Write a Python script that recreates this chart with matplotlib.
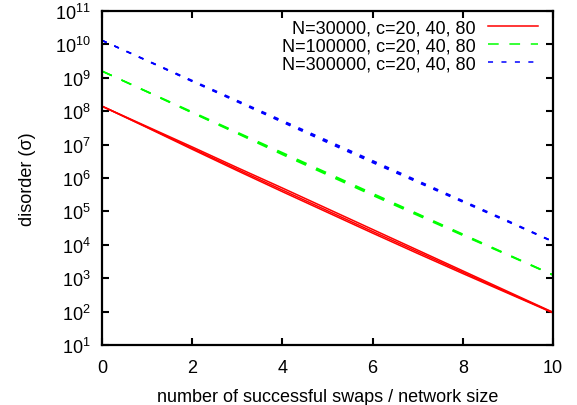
import matplotlib
matplotlib.use('Agg')
import matplotlib.pyplot as plt
import numpy as np
from matplotlib.ticker import LogLocator, NullLocator

plt.rcParams['font.family'] = ['Liberation Sans', 'DejaVu Sans']
plt.rcParams['mathtext.fontset'] = 'custom'
plt.rcParams['mathtext.rm'] = 'Liberation Sans'

# swaps per node
x = [0, 1, 2, 3, 4, 5, 6, 7, 8, 9, 10]

# log10(disorder)
red_c20 = [8.15, 7.54, 6.93, 6.31, 5.70, 5.08, 4.46, 3.84, 3.22, 2.60, 1.98]
red_c40 = [8.15, 7.51, 6.86, 6.22, 5.59, 4.97, 4.35, 3.74, 3.14, 2.55, 1.96]
red_c80 = [8.15, 7.52, 6.89, 6.26, 5.64, 5.02, 4.40, 3.79, 3.18, 2.57, 1.97]
green_c20 = [9.20, 8.59, 7.98, 7.37, 6.76, 6.15, 5.54, 4.93, 4.32, 3.71, 3.10]
green_c40 = [9.20, 8.58, 7.95, 7.33, 6.70, 6.09, 5.48, 4.88, 4.28, 3.69, 3.09]
green_c80 = [9.20, 8.58, 7.96, 7.35, 6.73, 6.12, 5.51, 4.91, 4.30, 3.70, 3.10]
blue_c20 = [10.12, 9.52, 8.92, 8.32, 7.72, 7.12, 6.52, 5.92, 5.32, 4.72, 4.10]
blue_c40 = [10.12, 9.51, 8.89, 8.28, 7.67, 7.06, 6.46, 5.87, 5.28, 4.69, 4.09]
blue_c80 = [10.12, 9.51, 8.90, 8.30, 7.69, 7.09, 6.49, 5.89, 5.30, 4.70, 4.10]

labels = ['N=30000, c=20, 40, 80', 'N=100000, c=20, 40, 80', 'N=300000, c=20, 40, 80']

fig = plt.figure(figsize=(5.77, 4.06), dpi=100)
ax = fig.add_axes([102/577, 1-346/406, 451/577, 334/406])

lw = 1.1
for i, y in enumerate([red_c20, red_c40, red_c80]):
    ax.plot(x, 10**np.array(y), color='#ff0000', lw=lw,
            label=labels[0] if i == 0 else None)
for i, y in enumerate([green_c20, green_c40, green_c80]):
    ax.plot(x, 10**np.array(y), color='#00ff00', lw=lw, dashes=(7, 7),
            label=labels[1] if i == 0 else None)
for i, y in enumerate([blue_c20, blue_c40, blue_c80]):
    ax.plot(x, 10**np.array(y), color='#0000ff', lw=lw, dashes=(3.3, 5.5),
            label=labels[2] if i == 0 else None)

ax.set_yscale('log')
ax.set_xlim(0, 10)
ax.set_ylim(1e1, 1e11)
ax.set_xticks([0, 2, 4, 6, 8, 10])
ax.yaxis.set_major_locator(LogLocator(base=10, numticks=20))
ax.yaxis.set_minor_locator(NullLocator())
ax.tick_params(direction='in', top=True, right=True, length=5, width=1.5,
               labelsize=13, pad=8)
ax.tick_params(axis='x', pad=10)
for s in ax.spines.values():
    s.set_linewidth(1.6)

ax.set_xlabel('number of successful swaps / network size', fontsize=13, labelpad=9)
ax.set_ylabel('disorder (σ)', fontsize=13, labelpad=14)

ax.legend(loc='upper right', bbox_to_anchor=(0.982, 0.997), frameon=False,
          markerfirst=False, fontsize=13, handlelength=2.77, labelspacing=0.05,
          borderaxespad=0.0, borderpad=0.4, handletextpad=0.65)

fig.savefig('out.png', dpi=100)
